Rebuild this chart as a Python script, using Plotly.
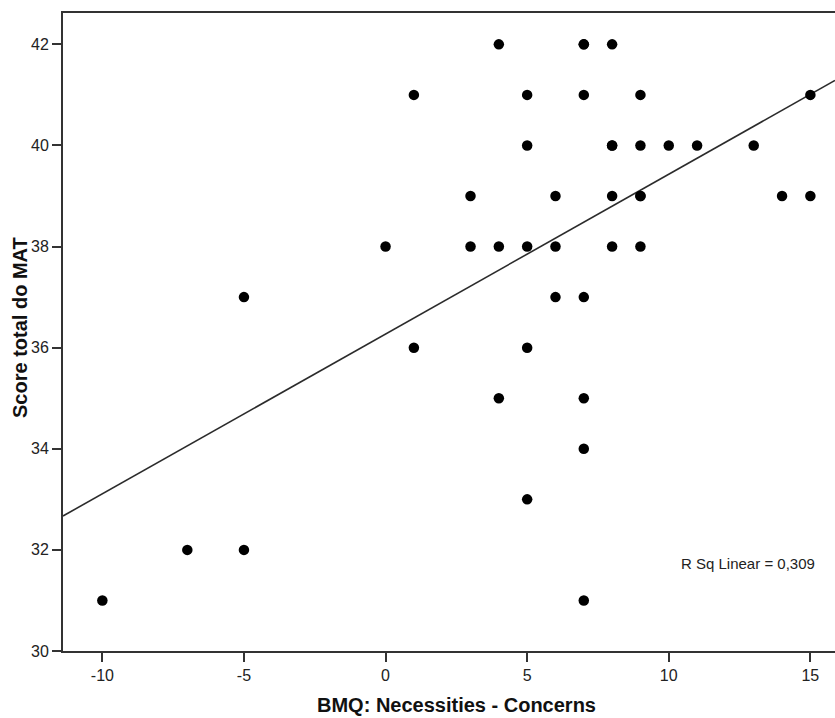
import numpy as np
import plotly.graph_objects as go

# Data (x = BMQ Necessities - Concerns, y = Score total do MAT)
bmq_x = [-10, -7, -5, -5, 0, 1, 1, 3, 3, 4, 4, 4,
         5, 5, 5, 5, 5, 6, 6, 6,
         7, 7, 7, 7, 7, 7, 7,
         8, 8, 8, 8, 8,
         9, 9, 9, 9, 9,
         10, 11, 13, 14, 15, 15]
mat_y = [31, 32, 32, 37, 38, 41, 36, 39, 38, 42, 38, 35,
         41, 40, 38, 36, 33, 39, 38, 37,
         42, 42, 41, 37, 35, 34, 31,
         42, 40, 40, 39, 38,
         41, 40, 39, 39, 38,
         40, 40, 40, 39, 41, 39]
r2_label = "R Sq Linear = 0,309"
x_ticks = [-10, -5, 0, 5, 10, 15]
x_ticktext = ["-10", "-5", "0", "5", "10", "15"]
y_ticks = [30, 32, 34, 36, 38, 40, 42]
x_range = [-11.39, 15.87]
y_range = [30, 42.62]

slope, intercept = np.polyfit(bmq_x, mat_y, 1)
line_x = np.array(x_range)
line_y = slope * line_x + intercept

fig = go.Figure()
fig.add_trace(go.Scatter(
    x=line_x, y=line_y, mode="lines",
    line=dict(color="#2b2b2b", width=1.6),
    hoverinfo="skip", showlegend=False))
fig.add_trace(go.Scatter(
    x=bmq_x, y=mat_y, mode="markers",
    marker=dict(color="black", size=10.5, line=dict(width=0)),
    showlegend=False, cliponaxis=False))

axis_font = dict(family="Liberation Sans, Arial, sans-serif", size=16, color="#222")
fig.update_xaxes(
    range=x_range, tickvals=x_ticks, ticktext=x_ticktext, ticks="outside", ticklen=9, tickwidth=1.5,
    tickcolor="#333", showline=True, linecolor="#333", linewidth=1.8,
    mirror=True, showgrid=False, zeroline=False, tickfont=axis_font)
fig.update_yaxes(
    range=y_range, tickvals=y_ticks, ticks="outside", ticklen=9, tickwidth=1.5,
    tickcolor="#333", showline=True, linecolor="#333", linewidth=1.8,
    mirror=False, showgrid=False, zeroline=False, tickfont=axis_font)

title_font = dict(family="Liberation Sans, Arial, sans-serif", size=20, color="#111")
fig.add_annotation(text="<b>BMQ: Necessities - Concerns</b>", xref="paper", yref="paper",
                   x=(456 - 63) / 772, y=-(705 - 651) / 638, xanchor="center", yanchor="middle",
                   showarrow=False, font=title_font)
fig.add_annotation(text="<b>Score total do MAT</b>", xref="paper", yref="paper",
                   x=(20 - 63) / 772, y=(651 - 328) / 638, xanchor="center", yanchor="middle",
                   textangle=-90, showarrow=False, font=title_font)
fig.add_annotation(text=r2_label, xref="paper", yref="paper",
                   x=(817 - 63) / 772, y=(651 - 563) / 638, xanchor="right", yanchor="middle",
                   showarrow=False,
                   font=dict(family="Liberation Sans, Arial, sans-serif", size=15, color="#222"))

fig.update_layout(
    width=835, height=718,
    margin=dict(l=63, r=0, t=13, b=67),
    plot_bgcolor="white", paper_bgcolor="white",
    showlegend=False)

fig.write_html("out.html")
